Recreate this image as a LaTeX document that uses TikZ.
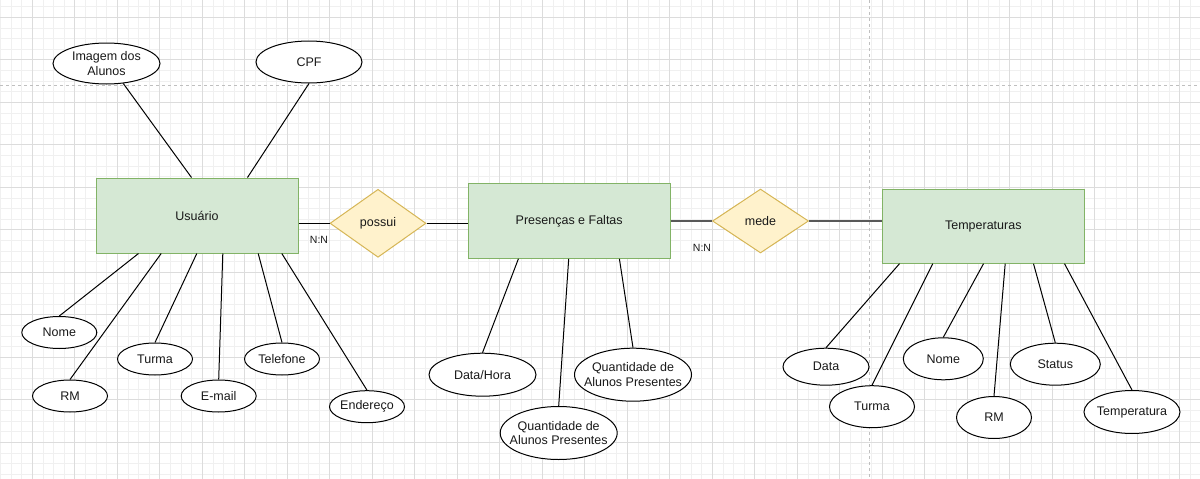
\documentclass[tikz,border=0pt]{standalone}
\usepackage{fontspec}
\setmainfont{Liberation Sans}
\usepackage{tikz}
\usetikzlibrary{shapes.geometric,calc}

\definecolor{entfill}{HTML}{D5E8D4}
\definecolor{entdraw}{HTML}{82B366}
\definecolor{relfill}{HTML}{FFF2CC}
\definecolor{reldraw}{HTML}{D6B656}
\definecolor{gridmin}{HTML}{F0F0F0}
\definecolor{gridmaj}{HTML}{DCDCDC}

\begin{document}
\begin{tikzpicture}
  [x=1pt,y=-1pt,
   every node/.style={font=\fontsize{12.5}{14.5}\selectfont, text=black!90},
   ent/.style={rectangle, draw=entdraw, fill=entfill, line width=1pt, inner sep=0pt, minimum width=202pt, minimum height=75pt},
   rel/.style={diamond, draw=reldraw, fill=relfill, line width=1pt, inner sep=0pt},
   attr/.style={ellipse, draw=black, fill=white, line width=1pt, inner xsep=-15pt, inner ysep=-5pt, align=center},
   card/.style={font=\fontsize{10.5}{12}\selectfont}]
  \useasboundingbox (0,0) rectangle (1200,479);
  \fill [white] (0,0) rectangle (1200,479);

  % grid
  \begin{scope}
    \clip (0,0) rectangle (1200,479);
    \foreach \i in {-4,...,110}
      \draw [gridmin, line width=.8pt] ({32.3+10.625*\i},0) -- ++(0,479);
    \foreach \i in {-2,...,45}
      \draw [gridmin, line width=.8pt] (0,{17.3+10.625*\i}) -- ++(1200,0);
    \foreach \i in {-1,...,27}
      \draw [gridmaj, line width=.8pt] ({32.3+42.5*\i},0) -- ++(0,479);
    \foreach \i in {-1,...,11}
      \draw [gridmaj, line width=.8pt] (0,{17.3+42.5*\i}) -- ++(1200,0);
    \draw [gray!50, line width=1pt, dash pattern=on 3pt off 3pt] (0,85.3) -- (1200,85.3);
    \draw [gray!50, line width=1pt, dash pattern=on 3pt off 3pt] (869,0) -- (869,479);
  \end{scope}

  % entidades e relacoes
  \node [ent] (usr) at (197,215.5) {Usuário};
  \node [ent] (pf) at (569.2,220.8) {Presenças e Faltas};
  \node [ent, minimum height=74pt] (temp) at (983.3,226.2) {Temperaturas};
  \node [rel, minimum width=96pt, minimum height=68pt] (possui) at (378,223.3) {possui};
  \node [rel, minimum width=96pt, minimum height=64pt] (mede) at (760.5,221) {mede};

  \node [card] (nn1) at (319,239.5) {N:N};
  \node [card] (nn2) at (702,247.5) {N:N};

  % atributos do usuario
  \node [attr, minimum width=107pt, minimum height=41pt] (img) at (106.5,63.5) {Imagem dos\\Alunos};
  \node [attr, minimum width=106pt, minimum height=42pt] (cpf) at (309,62) {CPF};
  \node [attr, minimum width=75pt, minimum height=32pt] (nome) at (59.3,332.5) {Nome};
  \node [attr, minimum width=75pt, minimum height=32pt] (rm) at (70,396) {RM};
  \node [attr, minimum width=75pt, minimum height=32pt] (turma) at (155,359) {Turma};
  \node [attr, minimum width=75pt, minimum height=32pt] (email) at (218.7,396) {E-mail};
  \node [attr, minimum width=75pt, minimum height=32pt] (tel) at (282,359) {Telefone};
  \node [attr, minimum width=75pt, minimum height=32pt] (ender) at (367,406.7) {Endereço};

  % atributos de presencas
  \node [attr, minimum width=107pt, minimum height=43pt] (dh) at (482.5,374.7) {Data/Hora};
  \node [attr, minimum width=117pt, minimum height=53pt] (qtdA) at (558.7,433) {Quantidade de\\Alunos Presentes};
  \node [attr, minimum width=117pt, minimum height=53pt] (qtdB) at (633,374.7) {Quantidade de\\Alunos Presentes};

  % atributos de temperaturas
  \node [attr, minimum width=86pt, minimum height=37pt] (tdata) at (826,366.7) {Data};
  \node [attr, minimum width=85pt, minimum height=42pt] (tturma) at (872,406.7) {Turma};
  \node [attr, minimum width=80pt, minimum height=42pt] (tnome) at (943.3,358.8) {Nome};
  \node [attr, minimum width=75pt, minimum height=42pt] (trm) at (994,417.5) {RM};
  \node [attr, minimum width=90pt, minimum height=42pt] (tstatus) at (1055.3,364.2) {Status};
  \node [attr, minimum width=96pt, minimum height=43pt] (ttemp) at (1132,412) {Temperatura};

  \path [-] [line width=1pt]
  (img.-50) edge ([xshift=96pt]usr.north west)
  (cpf.south) edge ([xshift=152pt]usr.north west)
  (nome.north) edge ([xshift=43pt]usr.south west)
  (rm.north) edge ([xshift=65.7pt]usr.south west)
  (turma.north) edge ([xshift=101.3pt]usr.south west)
  (email.north) edge ([xshift=127.3pt]usr.south west)
  (tel.north) edge ([xshift=162.7pt]usr.south west)
  (ender.north) edge ([xshift=186.3pt]usr.south west)

  (dh.north) edge ([xshift=50.7pt]pf.south west)
  (qtdA.north) edge ([xshift=101pt]pf.south west)
  (qtdB.north) edge ([xshift=151.7pt]pf.south west)

  (tdata.north) edge ([xshift=17.7pt]temp.south west)
  (tturma.north) edge ([xshift=51pt]temp.south west)
  (tnome.north) edge ([xshift=101.7pt]temp.south west)
  (trm.north) edge ([xshift=123.4pt]temp.south west)
  (tstatus.north) edge ([xshift=151.7pt]temp.south west)
  (ttemp.north) edge ([xshift=182.7pt]temp.south west);

  \path [-] [line width=1.3pt]
  (usr.east |- possui.west) edge (possui.west)
  (possui.east) edge (pf.west |- possui.east);

  \path [-] [line width=2pt, draw=black!65]
  (pf.east |- mede.west) edge (mede.west)
  (mede.east) edge (temp.west |- mede.east);

\end{tikzpicture}
\end{document}
